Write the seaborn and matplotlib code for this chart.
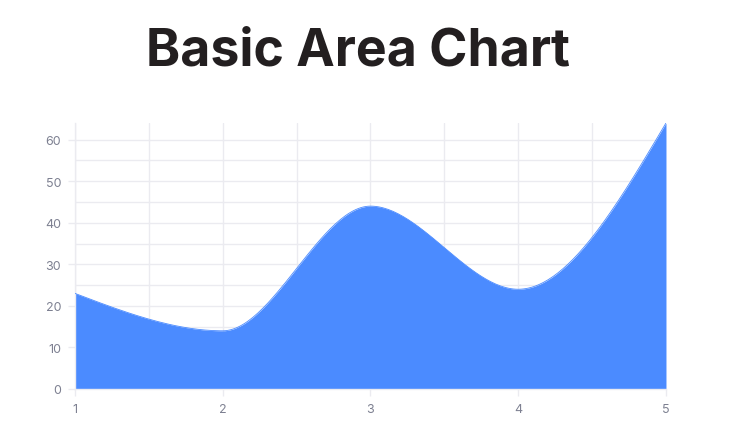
import numpy as np
import pandas as pd
import matplotlib
matplotlib.use("Agg")
import matplotlib.pyplot as plt
import seaborn as sns

# datos del grafico
x_vals = [1, 2, 3, 4, 5]
y_vals = [23, 14, 44, 24, 64]
x_ticks = [1, 2, 3, 4, 5]
y_ticks = [0, 10, 20, 30, 40, 50, 60]
title = "Basic Area Chart"

AREA = "#4b8bff"
GRID = "#ebebf0"
TICK_TXT = "#7d8091"


def monotone_path(x, y, n=60):
    # curva monotona (tipo d3 curveMonotoneX) solo para dibujar la linea
    x = np.asarray(x, float)
    y = np.asarray(y, float)
    h = np.diff(x)
    s = np.diff(y) / h
    t = np.zeros(len(x))
    for i in range(1, len(x) - 1):
        p = (s[i - 1] * h[i] + s[i] * h[i - 1]) / (h[i - 1] + h[i])
        t[i] = (np.sign(s[i - 1]) + np.sign(s[i])) * min(abs(s[i - 1]), abs(s[i]), 0.5 * abs(p))
    t[0] = (3 * s[0] - t[1]) / 2
    t[-1] = (3 * s[-1] - t[-2]) / 2
    xs, ys = [], []
    u = np.linspace(0, 1, n)
    for i in range(len(x) - 1):
        dx = h[i]
        p0 = (x[i], y[i])
        p1 = (x[i] + dx / 3, y[i] + dx * t[i] / 3)
        p2 = (x[i + 1] - dx / 3, y[i + 1] - dx * t[i + 1] / 3)
        p3 = (x[i + 1], y[i + 1])
        bx = (1 - u) ** 3 * p0[0] + 3 * (1 - u) ** 2 * u * p1[0] + 3 * (1 - u) * u ** 2 * p2[0] + u ** 3 * p3[0]
        by = (1 - u) ** 3 * p0[1] + 3 * (1 - u) ** 2 * u * p1[1] + 3 * (1 - u) * u ** 2 * p2[1] + u ** 3 * p3[1]
        xs.extend(bx)
        ys.extend(by)
    return np.array(xs), np.array(ys)


sns.set_theme(style="white")
plt.rcParams['font.family'] = ['Inter', 'DejaVu Sans']

fig = plt.figure(figsize=(7.3, 4.27), dpi=100)
ax = fig.add_axes([0.1027, 0.0867, 0.8096, 0.6229])

xs, ys = monotone_path(x_vals, y_vals)
df = pd.DataFrame({"x": xs, "y": ys})
sns.lineplot(data=df, x="x", y="y", ax=ax, color=AREA, linewidth=0.6, sort=False, zorder=3)
ax.fill_between(df["x"], 0, df["y"], color=AREA, linewidth=0, zorder=2)

ax.set_xlim(1, 5)
ax.set_ylim(0, max(y_vals))
ax.set_xticks(x_ticks)
ax.set_yticks(y_ticks)
ax.set_xticks(np.arange(1.5, 5, 1), minor=True)
ax.set_yticks(np.arange(5, 65, 10), minor=True)
ax.grid(True, which="both", color=GRID, linewidth=1, zorder=0)
ax.set_axisbelow(True)
ax.set_xlabel("")
ax.set_ylabel("")

for side in ["top", "right"]:
    ax.spines[side].set_visible(False)
for side in ["left", "bottom"]:
    ax.spines[side].set_color(GRID)
    ax.spines[side].set_linewidth(1)

ax.tick_params(axis="both", which="major", length=5, width=1, color=GRID,
               labelcolor=TICK_TXT, labelsize=9, pad=5, left=True, bottom=True)
ax.tick_params(axis="both", which="minor", length=0)

fig.text(0.491, 0.878, title, ha="center", va="center", fontsize=37.3,
         fontweight="bold", color="#231f20")

fig.savefig("out.png", dpi=100)
